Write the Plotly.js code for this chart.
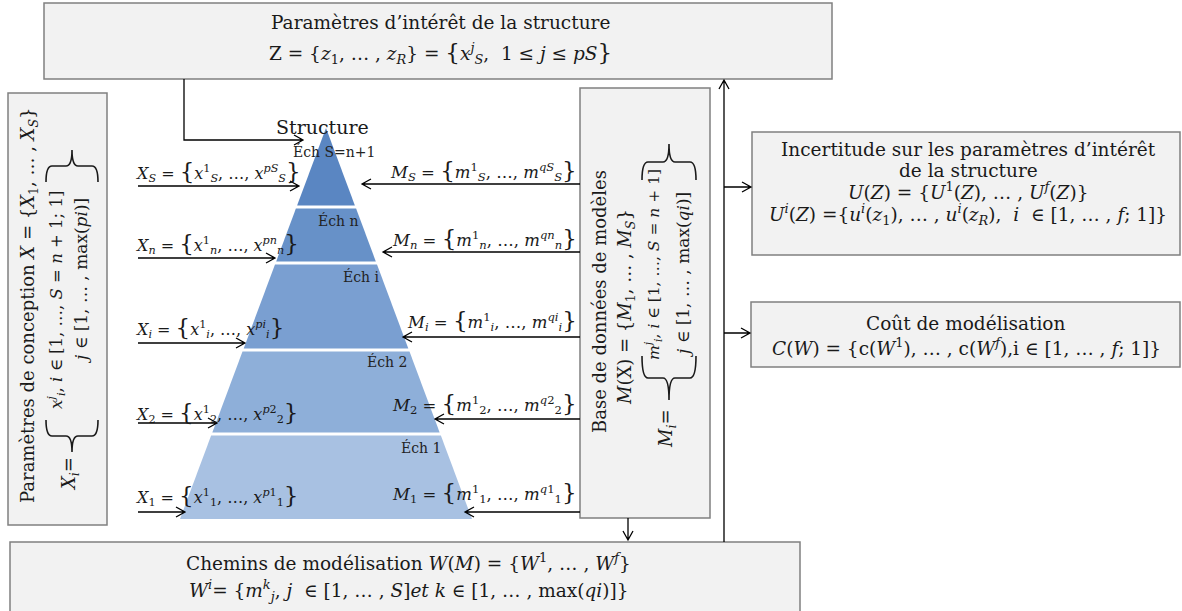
<!DOCTYPE html>
<html><head><meta charset="utf-8">
<script src="https://cdn.plot.ly/plotly-3.0.1.min.js"></script>
<style>html,body{margin:0;padding:0;background:#fff}</style>
</head><body>
<div id="chart" style="width:1182px;height:611px"></div>
<script>
// ---- content (bottom level to top level) ----
const LB = '<span style="font-size:23px">{</span>', RB = '<span style="font-size:23px">}</span>';
const levelNames = ["Éch 1", "Éch 2", "Éch i", "Éch n", "Éch S=n+1"];
const inputLabels = [
  "<i>X</i><sub>1</sub> = " + LB + "<i>x</i><sup>1</sup><sub>1</sub>, …, <i>x</i><sup><i>p</i>1</sup><sub>1</sub>" + RB,
  "<i>X</i><sub>2</sub> = " + LB + "<i>x</i><sup>1</sup><sub>2</sub>, …, <i>x</i><sup><i>p</i>2</sup><sub>2</sub>" + RB,
  "<i>X</i><sub><i>i</i></sub> = " + LB + "<i>x</i><sup>1</sup><sub><i>i</i></sub>, …, <i>x</i><sup><i>pi</i></sup><sub><i>i</i></sub>" + RB,
  "<i>X</i><sub><i>n</i></sub> = " + LB + "<i>x</i><sup>1</sup><sub><i>n</i></sub>, …, <i>x</i><sup><i>pn</i></sup><sub><i>n</i></sub>" + RB,
  "<i>X</i><sub><i>S</i></sub> = " + LB + "<i>x</i><sup>1</sup><sub><i>S</i></sub>, …, <i>x</i><sup><i>pS</i></sup><sub><i>S</i></sub>" + RB
];
const modelLabels = [
  "<i>M</i><sub>1</sub> = " + LB + "<i>m</i><sup>1</sup><sub>1</sub>, …, <i>m</i><sup><i>q</i>1</sup><sub>1</sub>" + RB,
  "<i>M</i><sub>2</sub> = " + LB + "<i>m</i><sup>1</sup><sub>2</sub>, …, <i>m</i><sup><i>q</i>2</sup><sub>2</sub>" + RB,
  "<i>M</i><sub><i>i</i></sub> = " + LB + "<i>m</i><sup>1</sup><sub><i>i</i></sub>, …, <i>m</i><sup><i>qi</i></sup><sub><i>i</i></sub>" + RB,
  "<i>M</i><sub><i>n</i></sub> = " + LB + "<i>m</i><sup>1</sup><sub><i>n</i></sub>, …, <i>m</i><sup><i>qn</i></sup><sub><i>n</i></sub>" + RB,
  "<i>M</i><sub><i>S</i></sub> = " + LB + "<i>m</i><sup>1</sup><sub><i>S</i></sub>, …, <i>m</i><sup><i>qS</i></sup><sub><i>S</i></sub>" + RB
];
const topBoxLines = [
  "Paramètres d’intérêt de la structure",
  "Z = {<i>z</i><sub>1</sub>, … , <i>z</i><sub><i>R</i></sub>} = " + LB + "<i>x</i><sup><i>j</i></sup><sub><i>S</i></sub>,  1 ≤ <i>j</i> ≤ <i>pS</i>" + RB
];
const leftBoxLines = [
  "Paramètres de conception <i>X</i> = {<i>X</i><sub>1</sub>, … , <i>X</i><sub><i>S</i></sub>}",
  "<i>x</i><sup><i>j</i></sup><sub><i>i</i></sub>, <i>i</i> ∈ [1, …, <i>S</i> = <i>n</i> + 1; 1]",
  "<i>j</i> ∈ [1, … , max(<i>pi</i>)]",
  "<i>X</i><sub><i>i</i></sub>="
];
const dbBoxLines = [
  "Base de données de modèles",
  "<i>M</i>(X) = {<i>M</i><sub>1</sub>, … , <i>M</i><sub><i>S</i></sub>}",
  "<i>m</i><sup><i>j</i></sup><sub><i>i</i></sub>, <i>i</i> ∈ [1, …, <i>S</i> = <i>n</i> + 1]",
  "<i>j</i> ∈ [1, … , max(<i>qi</i>)]",
  "<i>M</i><sub><i>i</i></sub>="
];
const uncertaintyLines = [
  "Incertitude sur les paramètres d’intérêt",
  "de la structure",
  "<i>U</i>(<i>Z</i>) = {<i>U</i><sup>1</sup>(<i>Z</i>), … , <i>U</i><sup><i>f</i></sup>(<i>Z</i>)}",
  "<i>U</i><sup><i>i</i></sup>(<i>Z</i>) ={<i>u</i><sup><i>i</i></sup>(<i>z</i><sub>1</sub>), … , <i>u</i><sup><i>i</i></sup>(<i>z</i><sub><i>R</i></sub>),  <i>i</i>  ∈ [1, … , <i>f</i>; 1]}"
];
const costLines = [
  "Coût de modélisation",
  "<i>C</i>(<i>W</i>) = {c(<i>W</i><sup>1</sup>), … , c(<i>W</i><sup><i>f</i></sup>),i ∈ [1, … , <i>f</i>; 1]}"
];
const pathLines = [
  "Chemins de modélisation <i>W</i>(<i>M</i>) = {<i>W</i><sup>1</sup>, … , <i>W</i><sup><i>f</i></sup>}",
  "<i>W</i><sup><i>i</i></sup>= {<i>m</i><sup><i>k</i></sup><sub><i>j</i></sub>, <i>j</i>  ∈ [1, … , <i>S</i>]<i>et k</i> ∈ [1, … , max(<i>qi</i>)]}"
];
const structureTitle = "Structure";

// ---- layout geometry (pixels) ----
const G = {
  apex: [326, 128], baseY: 519, baseHalf: 146,
  bounds: [519, 434, 350, 263, 207, 128],   // level boundaries, bottom to top
  gap: 1.6,
  levelLabelPos: [[421, 447], [387, 361], [361, 276], [338, 220], [334, 151]],
  inLabelY: [495, 412, 327, 243, 171], inLabelX: 133,
  inArrowY: [512, 423, 343, 258, 186], inArrowX0: 138, inArrowX1: [185, 217, 245, 275, 299],
  modLabelY: [492, 403, 320, 238, 170], modLabelX: 579,
  modArrowY: [512, 419, 337, 252, 184], modArrowX0: 580, modArrowX1: [465, 435, 403, 383, 362]
};
const levelColors = ["#a8c1e2", "#8eafd9", "#7a9fd1", "#6791c8", "#5a86c2"];

const SERIF = "DejaVu Serif, serif";
const TXT = "#1a1a1a";

// ---- pyramid traces ----
function edgeX(y, side) {
  const t = (y - G.apex[1]) / (G.baseY - G.apex[1]);
  return G.apex[0] + side * t * G.baseHalf;
}
const traces = [];
for (let k = 0; k < levelNames.length; k++) {
  const yb = G.bounds[k] - (k === 0 ? 0 : G.gap);
  const yt = G.bounds[k + 1] + (k === levelNames.length - 1 ? 0 : G.gap);
  traces.push({
    type: "scatter", mode: "lines", fill: "toself",
    x: [edgeX(yb, -1), edgeX(yb, 1), edgeX(yt, 1), edgeX(yt, -1), edgeX(yb, -1)],
    y: [yb, yb, yt, yt, yb],
    fillcolor: levelColors[k], line: {width: 0, color: levelColors[k]},
    hoverinfo: "skip", showlegend: false, name: levelNames[k]
  });
}

// ---- shapes ----
const boxStyle = {fillcolor: "#f2f2f2", line: {color: "#808080", width: 1.5}, layer: "below"};
function rect(x0, y0, x1, y1) {
  return Object.assign({type: "rect", xref: "x", yref: "y", x0, y0, x1, y1}, boxStyle);
}
const shapes = [
  rect(44, 3, 832, 79),
  rect(8, 93, 107, 525),
  rect(580, 88, 710, 518),
  rect(752, 132, 1180, 255),
  rect(751, 302, 1180, 367),
  rect(10, 542, 800, 640)
];
function arrowPath(pts) {
  let d = "M " + pts.map(p => p[0] + " " + p[1]).join(" L ");
  const [xa, ya] = pts[pts.length - 2], [xb, yb] = pts[pts.length - 1];
  const L = Math.hypot(xb - xa, yb - ya), ux = (xb - xa) / L, uy = (yb - ya) / L;
  const hl = 9, hw = 5;
  const bx = xb - ux * hl, by = yb - uy * hl;
  d += ` M ${bx - uy * hw} ${by + ux * hw} L ${xb} ${yb} L ${bx + uy * hw} ${by - ux * hw}`;
  return {type: "path", xref: "x", yref: "y", path: d, line: {color: "#000", width: 1.3}, layer: "above"};
}
// horizontal curly brace (for rotated text): ends at yEnd, tip at yTip
function brace(x0, x1, yEnd, yTip) {
  const ym = (yEnd + yTip) / 2, xm = (x0 + x1) / 2, w = 6;
  const d = `M ${x0} ${yEnd} Q ${x0} ${ym} ${x0 + w} ${ym} L ${xm - w} ${ym} Q ${xm} ${ym} ${xm} ${yTip} ` +
            `Q ${xm} ${ym} ${xm + w} ${ym} L ${x1 - w} ${ym} Q ${x1} ${ym} ${x1} ${yEnd}`;
  return {type: "path", xref: "x", yref: "y", path: d, line: {color: TXT, width: 1.6}, layer: "above"};
}
for (let k = 0; k < 5; k++) {
  shapes.push(arrowPath([[G.inArrowX0, G.inArrowY[k]], [G.inArrowX1[k], G.inArrowY[k]]]));
  shapes.push(arrowPath([[G.modArrowX0, G.modArrowY[k]], [G.modArrowX1[k], G.modArrowY[k]]]));
}
shapes.push(arrowPath([[184, 79], [184, 140], [303, 140]]));
shapes.push(arrowPath([[628, 518], [628, 540]]));
shapes.push(arrowPath([[724, 542], [724, 80]]));
shapes.push(arrowPath([[724, 187], [751, 187]]));
shapes.push(arrowPath([[724, 333], [750, 333]]));
shapes.push(brace(46, 98, 420, 452));
shapes.push(brace(46, 98, 182, 150));
shapes.push(brace(642, 696, 356, 400));
shapes.push(brace(642, 696, 180, 144));

// ---- annotations ----
const ann = [];
function txt(x, y, text, size, opts) {
  ann.push(Object.assign({
    xref: "x", yref: "y", x, y, text, showarrow: false,
    font: {family: SERIF, size, color: TXT}, xanchor: "center", yanchor: "middle"
  }, opts || {}));
}
const FS = 18.5;
// top box
txt(440, 22, topBoxLines[0], FS);
txt(440, 53, topBoxLines[1], FS);
// structure + level labels
txt(322, 127, structureTitle, 19);
levelNames.forEach((n, k) => txt(G.levelLabelPos[k][0], G.levelLabelPos[k][1], n, 14, {font: {family: SERIF, size: 14, color: "#222"}}));
// inputs and models
inputLabels.forEach((t, k) => txt(G.inLabelX, G.inLabelY[k], t, 16, {xanchor: "left"}));
modelLabels.forEach((t, k) => txt(G.modLabelX, G.modLabelY[k], t, 16.5, {xanchor: "right"}));
// left box (rotated)
txt(29, 305, leftBoxLines[0], 18, {textangle: -90});
txt(56, 300, leftBoxLines[1], 16.5, {textangle: -90});
txt(81, 281, leftBoxLines[2], 17, {textangle: -90});
txt(70, 474, leftBoxLines[3], 18, {textangle: -90});
// database box (rotated)
txt(599, 302, dbBoxLines[0], 18, {textangle: -90});
txt(626, 307, dbBoxLines[1], 18, {textangle: -90});
txt(653, 265, dbBoxLines[2], 15.5, {textangle: -90});
txt(683, 275, dbBoxLines[3], 17, {textangle: -90});
txt(667, 429, dbBoxLines[4], 18, {textangle: -90});
// right boxes
const ys1 = [149, 170, 191, 214];
uncertaintyLines.forEach((t, k) => txt(968, ys1[k], t, FS));
txt(966, 323, costLines[0], FS);
txt(966, 347, costLines[1], FS);
// bottom box
txt(408, 562, pathLines[0], FS);
txt(408, 590, pathLines[1], FS);

const layout = {
  width: 1182, height: 611,
  margin: {l: 0, r: 0, t: 0, b: 0},
  paper_bgcolor: "#ffffff", plot_bgcolor: "#ffffff",
  xaxis: {range: [0, 1182], visible: false, fixedrange: true},
  yaxis: {range: [611, 0], visible: false, fixedrange: true},
  shapes, annotations: ann, showlegend: false
};
Plotly.newPlot("chart", traces, layout, {displayModeBar: false, staticPlot: true});
</script>
</body></html>
